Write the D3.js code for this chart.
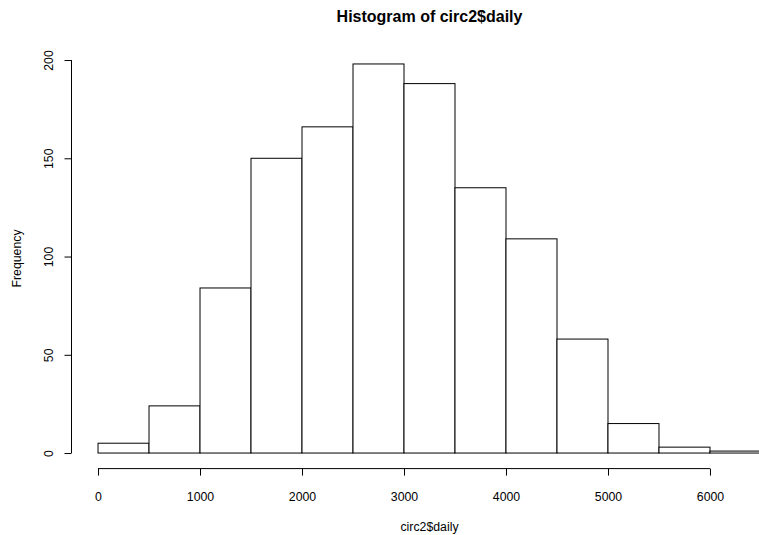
<!DOCTYPE html>
<html>
<head>
<meta charset="utf-8">
<script src="https://cdn.jsdelivr.net/npm/d3@7"></script>
<style>
  body { margin: 0; background: #fff; overflow: hidden; }
  svg { display: block; font-family: "Liberation Sans", Arial, Helvetica, sans-serif; }
  .axis text { font-size: 12.3px; fill: #000; }
  .axis line { stroke: #000; }
</style>
</head>
<body>
<div class="graph_container"></div>
<script>
const w = 759;
const h = 535;

// histogram bins (break edges) and counts
const breaks = [0, 500, 1000, 1500, 2000, 2500, 3000, 3500, 4000, 4500, 5000, 5500, 6000, 6500];
const counts = [5, 24, 84, 150, 166, 198, 188, 135, 109, 58, 15, 3, 1];
const xTicks = [0, 1000, 2000, 3000, 4000, 5000, 6000];
const yTicks = [0, 50, 100, 150, 200];

const bins = counts.map((c, i) => ({ x0: breaks[i], x1: breaks[i + 1], n: c }));

// R-style 4% extension of the ranges; plot area runs past the right edge
const xr = [breaks[0], breaks[breaks.length - 1]];
const yr = [0, d3.max(counts)];
const xPad = (xr[1] - xr[0]) * 0.04;
const yPad = (yr[1] - yr[0]) * 0.04;

const plot = { left: 71.5, right: 787.5, top: 48.4, bottom: 468.6 };

const svg = d3.select(".graph_container").append("svg").attr("width", w).attr("height", h);

const xScale = d3.scaleLinear()
  .domain([xr[0] - xPad, xr[1] + xPad])
  .range([plot.left, plot.right]);

const yScale = d3.scaleLinear()
  .domain([yr[0] - yPad, yr[1] + yPad])
  .range([plot.bottom, plot.top]);

svg.selectAll("rect.bar")
  .data(bins)
  .enter()
  .append("rect")
  .attr("class", "bar")
  .attr("x", d => xScale(d.x0))
  .attr("y", d => yScale(d.n))
  .attr("width", d => xScale(d.x1) - xScale(d.x0))
  .attr("height", d => yScale(0) - yScale(d.n))
  .attr("fill", "#fff")
  .attr("stroke", "#000")
  .attr("stroke-width", 1);

// x axis
const xAxis = d3.axisBottom(xScale).tickValues(xTicks).tickSize(7).tickPadding(17).tickFormat(d3.format("d"));
const gx = svg.append("g")
  .attr("class", "axis")
  .attr("transform", "translate(0," + plot.bottom + ")")
  .call(xAxis);
gx.select(".domain").remove();
gx.append("line")
  .attr("x1", xScale(xTicks[0])).attr("x2", xScale(xTicks[xTicks.length - 1]))
  .attr("stroke", "#000");

// y axis, labels turned like R's default las=0
const yAxis = d3.axisLeft(yScale).tickValues(yTicks).tickSize(7);
const gy = svg.append("g")
  .attr("class", "axis")
  .attr("transform", "translate(" + plot.left + ",0)")
  .call(yAxis);
gy.select(".domain").remove();
gy.append("line")
  .attr("y1", yScale(yTicks[0])).attr("y2", yScale(yTicks[yTicks.length - 1]))
  .attr("stroke", "#000");
gy.selectAll(".tick text")
  .attr("x", null).attr("dy", null)
  .attr("transform", "translate(-18.5,0) rotate(-90)")
  .attr("text-anchor", "middle");

// titles
svg.append("text")
  .attr("x", (plot.left + plot.right) / 2)
  .attr("y", 22)
  .attr("text-anchor", "middle")
  .style("font-size", "16px")
  .style("font-weight", "bold")
  .text("Histogram of circ2$daily");

svg.append("text")
  .attr("x", (plot.left + plot.right) / 2)
  .attr("y", 531)
  .attr("text-anchor", "middle")
  .style("font-size", "12.3px")
  .text("circ2$daily");

svg.append("text")
  .attr("transform", "translate(21," + (plot.top + plot.bottom) / 2 + ") rotate(-90)")
  .attr("text-anchor", "middle")
  .style("font-size", "12.3px")
  .text("Frequency");
</script>
</body>
</html>
